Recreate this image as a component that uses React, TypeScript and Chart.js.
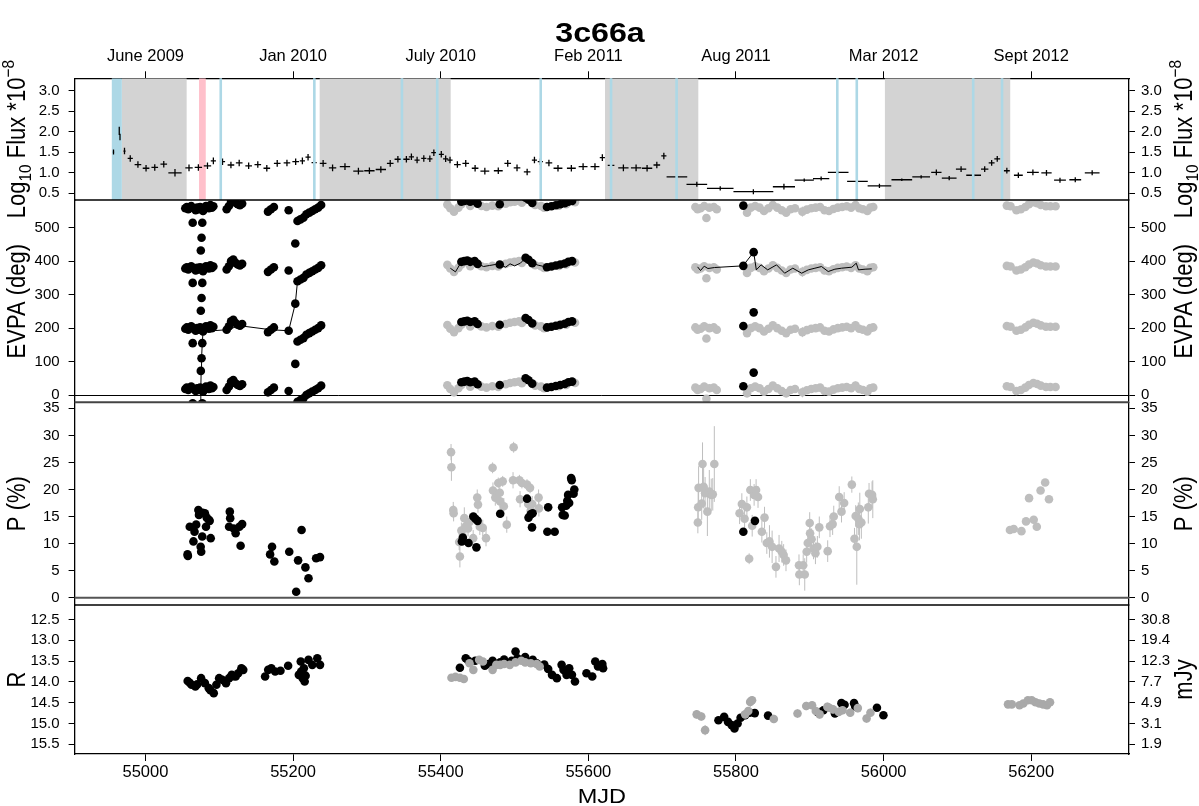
import React, { useEffect, useRef } from 'react';
import { Chart, registerables } from 'chart.js';

Chart.register(...registerables);

// ---------------- axes ----------------
const X_MIN = 54904;
const X_MAX = 56332.5;
const mjdTicks = [55000, 55200, 55400, 55600, 55800, 56000, 56200];
const mjdLabels = ['55000', '55200', '55400', '55600', '55800', '56000', '56200'];
const dateLabels = ['June 2009', 'Jan 2010', 'July 2010', 'Feb 2011', 'Aug 2011', 'Mar 2012', 'Sept 2012'];

const fluxRange = [0.337, 3.302];
const fluxTicks = [0.5, 1.0, 1.5, 2.0, 2.5, 3.0];
const fluxTickLabels = ['0.5', '1.0', '1.5', '2.0', '2.5', '3.0'];
const evpaRange = [-21.8, 582.8];
const evpaTicks = [0, 100, 200, 300, 400, 500];
const evpaTickLabels = ['0', '100', '200', '300', '400', '500'];
const pRange = [-1.35, 36.11];
const pTicks = [0, 5, 10, 15, 20, 25, 30, 35];
const pTickLabels = ['0', '5', '10', '15', '20', '25', '30', '35'];
const rRange = [12.151, 15.733];
const rTicks = [12.5, 13.0, 13.5, 14.0, 14.5, 15.0, 15.5];
const rTickLabels = ['12.5', '13.0', '13.5', '14.0', '14.5', '15.0', '15.5'];
const mJyLabels = ['30.8', '19.4', '12.3', '7.7', '4.9', '3.1', '1.9'];
const panelWeights = [121.7, 202.3, 202.7, 149];
const evpaWraps = [0, 180, 360, 540];

// ---------------- flux panel annotations ----------------
const grayBands = [[54968, 55055.8], [55236, 55413.5], [55622.6, 55749], [56001.8, 56171.6]];
const blueBand = [54954.4, 54968];
const pinkBand = [55072.6, 55081.7];
const blueLines = [55102, 55228.8, 55347.5, 55395.3, 55535.5, 55630.8, 55719.6, 55937.3, 55963.7, 56121.4, 56160.5];

// ---------------- flux (binned gamma-ray) ----------------
const fluxMjd = [54956.7, 54964.5, 54965.5, 54971.6, 54979.4, 54989.8, 55000.8, 55012.6, 55024.8, 55040,
  55059, 55071.7, 55084, 55092, 55104.4, 55115.8, 55127, 55139.8, 55152.2, 55164.4,
  55178.5, 55191.7, 55203.5, 55212.6, 55220.3, 55228.5, 55240.7, 55253.5, 55270.3, 55288.5,
  55303.4, 55318.9, 55331.6, 55342, 55353.5, 55360.3, 55368, 55377.1, 55385.3, 55390.7,
  55400.8, 55406.7, 55412.6, 55422.6, 55433.9, 55446.6, 55459.8, 55478, 55490.8, 55503.4,
  55517.1, 55527, 55535, 55546.6, 55558.9, 55577, 55592.9, 55609, 55619, 55630.8,
  55647.5, 55664.7, 55679.6, 55692.8, 55702.3, 55720, 55747, 55778.7, 55823.6, 55865,
  55892.5, 55915.4, 55938.5, 55964.6, 55994.4, 56024.7, 56050.9, 56071.5, 56088.9, 56105,
  56122, 56137, 56146.4, 56154, 56167, 56182.6, 56202.3, 56220.7, 56239, 56259.7, 56282.6];
const fluxVal = [1.505, 2.02, 1.87, 1.53, 1.35, 1.20, 1.11, 1.13, 1.21, 1.00,
  1.12, 1.13, 1.17, 1.29, 1.27, 1.19, 1.24, 1.17, 1.20, 1.11,
  1.23, 1.24, 1.27, 1.29, 1.38, 1.25, 1.23, 1.12, 1.15, 1.04,
  1.05, 1.08, 1.23, 1.33, 1.33, 1.39, 1.31, 1.35, 1.34, 1.49,
  1.45, 1.34, 1.31, 1.20, 1.23, 1.11, 1.04, 1.05, 1.23, 1.12,
  1.02, 1.31, 1.27, 1.24, 1.11, 1.11, 1.15, 1.15, 1.37, 1.18,
  1.12, 1.12, 1.11, 1.19, 1.41, 0.90, 0.72, 0.62, 0.54, 0.66,
  0.82, 0.86, 1.01, 0.79, 0.68, 0.83, 0.90, 1.01, 0.87, 1.09,
  0.94, 1.09, 1.24, 1.34, 1.05, 0.94, 1.01, 1.00, 0.82, 0.83, 1.00];
const fluxXerr = [1, 0.5, 0.5, 1.5, 3.5, 4.5, 4.5, 4.5, 4.5, 9,
  5, 5, 5, 3.5, 3.5, 4.5, 4.5, 4.5, 4.5, 4.5,
  4.5, 4.5, 4.5, 3.5, 3.5, 3.5, 4.5, 5, 7, 7,
  7, 7, 4.5, 4.5, 4.5, 3.5, 3.5, 3.5, 3.5, 3.5,
  3.5, 3.5, 3.5, 4.5, 4.5, 4.5, 6, 6, 4.5, 4.5,
  4.5, 3.5, 3.5, 4.5, 6, 6, 6, 6, 3.5, 4.5,
  7, 7, 7, 4.5, 3.5, 14, 14, 18, 27, 15,
  13, 11, 14, 14, 16, 14, 12, 7, 10, 7,
  10, 5, 4, 4, 4, 6, 8, 7, 8, 8, 10];
const fluxYerr = [0.06, 0.1, 0.08, 0.08, 0.08, 0.08, 0.08, 0.08, 0.08, 0.09,
  0.08, 0.08, 0.08, 0.08, 0.08, 0.08, 0.08, 0.08, 0.08, 0.08,
  0.08, 0.08, 0.08, 0.08, 0.08, 0.08, 0.08, 0.08, 0.08, 0.08,
  0.08, 0.08, 0.08, 0.08, 0.08, 0.08, 0.08, 0.08, 0.08, 0.08,
  0.08, 0.08, 0.08, 0.08, 0.08, 0.08, 0.08, 0.08, 0.08, 0.08,
  0.08, 0.08, 0.08, 0.08, 0.08, 0.08, 0.08, 0.08, 0.08, 0.08,
  0.08, 0.08, 0.08, 0.08, 0.08, 0.02, 0.06, 0.05, 0.06, 0.07,
  0.04, 0.05, 0.02, 0.02, 0.05, 0.03, 0.04, 0.07, 0.05, 0.07,
  0.03, 0.07, 0.07, 0.07, 0.07, 0.07, 0.07, 0.07, 0.06, 0.06, 0.06];

// ---------------- EVPA ----------------
const evpaBlackMjd = [55054, 55056, 55058, 55060, 55062, 55064, 55066, 55068, 55070, 55072, 55074, 55075, 55076, 55077, 55078, 55080, 55082, 55084, 55086, 55088, 55090, 55092,
  55110, 55113, 55116, 55119, 55122, 55125, 55128, 55131,
  55166, 55170, 55174, 55194, 55203, 55206, 55210, 55214, 55218, 55222, 55226, 55230, 55234, 55238,
  55428, 55432, 55436, 55440, 55446, 55450, 55480, 55515, 55519, 55524, 55544, 55550, 55556, 55562, 55568, 55573, 55578,
  55810, 55824];
const evpaBlackDeg = [18, 22, 15, 20, 25, -25, 18, 12, 20, 15, 22, 72, 110, -25, 10, 20, 25, 22, 18, 28, 20, 24,
  15, 25, 40, 45, 35, 30, 27, 32,
  8, 15, 22, 12, 93, -20, -15, -10, 0, 5, 10, 15, 20, 28,
  38, 40, 42, 38, 40, 32, 30, 50, 44, 34, 22, 24, 27, 30, 33, 38, 40,
  26, 67];
const evpaGrayMjd = [55409, 55413, 55418, 55424, 55428, 55440, 55455, 55462, 55470, 55478, 55488, 55494, 55500, 55506, 55510, 55528, 55536, 55540, 55560, 55570, 55582,
  55745, 55748, 55752, 55757, 55760, 55764, 55770, 55774, 55815, 55820, 55826, 55832, 55838, 55844, 55850, 55856, 55862, 55868, 55874, 55880,
  55890, 55896, 55902, 55908, 55914, 55920, 55926, 55932, 55938, 55944, 55950, 55956, 55962, 55967, 55972, 55978, 55982, 55986,
  56167, 56172, 56180, 56186, 56192, 56197, 56203, 56208, 56213, 56220, 56226, 56233];
const evpaGrayDeg = [29, 18, 8, 20, 30, 25, 25, 22, 26, 24, 32, 36, 38, 40, 35, 28, 25, 20, 26, 30, 36,
  22, 15, 18, 25, -11, 20, 22, 15, 5, 20, 25, 20, 10, 18, 28, 20, 12, 5, 15, 18,
  8, 14, 18, 20, 22, 12, 10, 16, 20, 22, 24, 20, 28, 18, 15, 10, 20, 22,
  26, 24, 12, 15, 22, 30, 36, 33, 28, 24, 24, 24];
const evpaGrayErr = [3, 3, 3, 3, 3, 3, 3, 3, 3, 3, 3, 3, 3, 3, 3, 3, 3, 3, 3, 3, 3,
  6, 8, 6, 8, 5, 6, 8, 6, 5, 6, 5, 6, 8, 5, 6, 5, 6, 8, 6, 5,
  15, 8, 6, 5, 6, 8, 6, 5, 6, 8, 6, 5, 12, 6, 5, 6, 8, 6,
  2, 2, 2, 2, 2, 2, 2, 2, 2, 2, 2, 2];
const evpaTrack1Mjd = [55074, 55075, 55075.5, 55076, 55077, 55078, 55110, 55128, 55170, 55194, 55203, 55206, 55214, 55222, 55230, 55238];
const evpaTrack1Deg = [-25, 22, 72, 110, 155, 190, 195, 207, 195, 192, 273, 340, 350, 365, 375, 388];
const evpaTrack2Mjd = [55413, 55420, 55428, 55432, 55436, 55440, 55446, 55450, 55458, 55466, 55474, 55480, 55488, 55494, 55500, 55508, 55515, 55519, 55524, 55532, 55544, 55550, 55556, 55562, 55568, 55573, 55578];
const evpaTrack2Deg = [379, 368, 398, 400, 402, 398, 400, 392, 384, 387, 390, 390, 382, 392, 386, 394, 410, 404, 394, 388, 382, 384, 387, 390, 393, 398, 400];
const evpaTrack3Mjd = [55748, 55752, 55757, 55762, 55771, 55809.5, 55824, 55827.6, 55834, 55843, 55855, 55866, 55877, 55889, 55898, 55907, 55916, 55925, 55934, 55943, 55957, 55963, 55966, 55975, 55984];
const evpaTrack3Deg = [383, 372, 385, 378, 381, 386, 427, 374, 389, 374, 389, 364, 379, 364, 374, 379, 384, 369, 376, 379, 382, 394, 374, 376, 377];

// ---------------- polarization degree ----------------
const pBlackMjd = [55057, 55057.5, 55060, 55065, 55066.5, 55068.7, 55071.7, 55072.5, 55074.8, 55075.5, 55076.9, 55077.5, 55080.5, 55082, 55083, 55085.8, 55087, 55088.4,
  55114.3, 55114.8, 55113.3, 55119.5, 55122.2, 55127.3, 55131, 55128.9,
  55171.5, 55168.9, 55174.6, 55194.8, 55206.8, 55204.2, 55211.5, 55216.7, 55220.9, 55231.2, 55236.5,
  55428.7, 55430, 55437.7, 55444.2, 55447, 55450, 55448.4, 55480.6, 55517, 55519, 55522, 55523.7, 55524.5,
  55545.6, 55544.5, 55554.4, 55565.3, 55564.5, 55568, 55570, 55572.6, 55571.5, 55574, 55576.7, 55577.5, 55581, 55580,
  55810, 55825.7];
const pBlackVal = [8.0, 7.7, 13.1, 10.4, 12.2, 13.5, 16.2, 15.3, 9.4, 8.5, 11.3, 15.7, 15.6, 13.1, 14.8, 14.4, 14.2, 11.0,
  15.9, 14.7, 13.1, 12.8, 11.9, 13.1, 13.6, 9.6,
  9.4, 8.0, 6.7, 8.5, 6.9, 1.1, 12.5, 5.6, 3.6, 7.3, 7.5,
  10.4, 11.1, 10.1, 15.0, 14.6, 14.2, 9.3, 15.5, 18.3, 14.8, 15.4, 13.0, 15.6,
  16.7, 12.2, 12.2, 15.3, 16.7, 15.2, 17.0, 19.0, 17.9, 17.5, 22.1, 21.7, 20.0, 19.2,
  12.2, 14.2];
const pGrayMjd = [55414, 55414.5, 55417, 55417.5, 55425, 55426, 55428, 55432, 55434, 55437, 55439, 55444, 55449.5, 55450.5, 55453, 55457, 55461.4,
  55470.3, 55470.8, 55474, 55478, 55480, 55480.5, 55484, 55485.5, 55489.5, 55498.8, 55498, 55506.6, 55507.5, 55510, 55516.9, 55521, 55518.5, 55522, 55524, 55532.6, 55533,
  55748.4, 55748.8, 55749.4, 55753.6, 55754.7, 55756.2, 55758.2, 55761.3, 55763.9, 55766.5, 55768.6, 55770.7,
  55804.9, 55808, 55811.7, 55814.8, 55817.9, 55819.5, 55822, 55824.6, 55827.3, 55829.9, 55835.1, 55838.7, 55841.8, 55845.4, 55849, 55854.2, 55858.4, 55862.1, 55864.6, 55867.8,
  55885.4, 55885.9, 55891.1, 55893.2, 55895.8, 55897.3, 55899.9, 55900.4, 55902.5, 55905.1, 55907.7, 55910.3, 55912.9,
  55924.3, 55927.4, 55931, 55932.5, 55939.9, 55943, 55946.6, 55957, 55960.6, 55962.2, 55963.7, 55965.8, 55967.3, 55967.8, 55969.9, 55979.3, 55980.3, 55984.4, 55985.4,
  56171.2, 56176.3, 56186.8, 56193, 56197.1, 56203.4, 56207.6, 56212.7, 56218.9, 56224.1];
const pGrayVal = [26.9, 24.1, 16.2, 15.6, 10.3, 7.6, 12.4, 14.7, 13.2, 12.8, 14.0, 11.0, 18.5, 17.2, 13.1, 12.9, 11.0,
  24.0, 19.8, 18.5, 21.2, 19.4, 17.8, 21.5, 16.9, 13.5, 27.8, 21.7, 21.7, 18.2, 21.2, 20.9, 20.3, 17.3, 16.1, 17.3, 18.5, 16.5,
  13.9, 16.7, 20.3, 17.4, 24.7, 20.5, 19.3, 15.9, 19.6, 19.0, 19.1, 24.7,
  15.6, 17.3, 14.6, 16.7, 7.2, 19.9, 13.3, 19.0, 19.9, 18.6, 12.2, 14.8, 10.1, 10.4, 9.4, 5.7, 9.1, 8.5, 7.9, 6.9,
  6.0, 4.3, 6.0, 4.3, 8.5, 10.1, 13.8, 11.9, 10.8, 9.1, 8.2, 9.4, 13.0,
  8.6, 13.2, 13.6, 15.0, 18.6, 15.9, 17.5, 20.9, 10.9, 15.1, 9.4, 14.6, 13.6, 16.4, 13.9, 16.7, 19.2, 19.0, 18.2,
  12.5, 12.7, 12.3, 14.1, 18.4, 14.4, 13.1, 19.8, 21.3, 18.2];
const pGrayErr = [1.5, 2.5, 1.5, 1.5, 1.5, 2, 1.5, 2, 1.5, 1.5, 1.5, 1.5, 1.5, 1.5, 1.5, 1.5, 1.5,
  1, 1.5, 1.5, 1, 1.5, 1.5, 1, 1.5, 1.5, 1, 1.5, 1, 1.5, 1, 1, 1, 1.5, 1.5, 1.5, 1.5, 1.5,
  2, 3, 4, 3, 4, 4, 3, 4.5, 4, 3, 3, 7,
  2, 2, 2, 2, 1, 2, 2, 2, 2, 2, 2, 2, 2, 3, 3, 2, 2.5, 2, 2, 2,
  2, 2, 2, 3, 2, 2, 2, 2, 2, 2, 2, 2, 2,
  2, 2, 2, 2, 2, 2, 2, 1.5, 2, 2, 7, 3, 3, 3, 3, 3, 2, 2.5, 3.5,
  0.5, 0.5, 0.5, 0.5, 0.5, 0.5, 0.5, 0.5, 0.5, 0.5];

// ---------------- R magnitude ----------------
const rBlackMjd = [55057.2, 55060, 55062.4, 55067.6, 55070, 55075.4, 55080.5, 55085.8, 55088, 55092.5, 55096.1, 55099.8, 55104, 55109.1, 55113.3, 55116.9, 55119, 55122.2, 55125.7, 55130, 55132.5,
  55162.1, 55166.3, 55170.5, 55175.7, 55182.9, 55193.3, 55207.8, 55210.4, 55211, 55213, 55214.6, 55215.7, 55217, 55220.9, 55226, 55232.8, 55236.5,
  55426, 55433.9, 55437.5, 55446.9, 55459.8, 55465, 55470.3, 55480.6, 55485.9, 55496.2, 55501.4, 55504, 55514.4, 55524.7, 55530, 55540.3, 55545.6, 55550.8, 55557.4,
  55563.8, 55566.4, 55570.5, 55574.1, 55577.8, 55581.9, 55597.5, 55605.3, 55609.4, 55613.1, 55619, 55620,
  55776.3, 55784, 55789.2, 55794.3, 55798, 55802.2, 55806.3, 55812.5, 55818.7, 55825.5, 55843.5, 55910.8, 55918.5, 55934.1, 55942.9, 55947.1, 55960, 55961.6, 55991, 55999.8];
const rBlackMag = [13.98, 14.02, 14.07, 14.11, 14.06, 13.91, 14.03, 14.15, 14.20, 14.27, 14.07, 13.91, 13.95, 14.03, 13.91, 13.83, 13.86, 13.87, 13.79, 13.67, 13.71,
  13.87, 13.71, 13.67, 13.75, 13.73, 13.61, 13.83, 13.51, 13.75, 13.91, 13.67, 13.99, 13.85, 13.47, 13.59, 13.43, 13.59,
  13.66, 13.43, 13.49, 13.49, 13.61, 13.57, 13.49, 13.53, 13.46, 13.49, 13.27, 13.43, 13.40, 13.47, 13.55, 13.58, 13.69, 13.83, 13.91,
  13.59, 13.71, 13.83, 13.67, 13.83, 13.99, 13.79, 13.87, 13.51, 13.63, 13.57, 13.67,
  14.92, 14.84, 14.96, 15.04, 15.12, 15.00, 14.86, 14.80, 14.74, 14.75, 14.81, 14.73, 14.68, 14.76, 14.51, 14.55, 14.51, 14.59, 14.62, 14.80];
const rGrayMjd = [55414.6, 55420, 55426, 55431.3, 55439, 55444.2, 55452.1, 55457.2, 55470.3, 55475.4, 55480.6, 55485.9, 55493.6, 55501.4, 55509.2, 55514.4, 55522.1, 55530, 55534.1,
  55746.8, 55753, 55758.2, 55812.5, 55816.7, 55819.3, 55821.8, 55851.3, 55883.4, 55895.2, 55903.1, 55908.2, 55913.4, 55923.8, 55926.4, 55931.5, 55939.2, 55944.4, 55954.8, 55965.1, 55977, 55982.2,
  56168.6, 56173.7, 56184.2, 56189.3, 56195.5, 56200.7, 56205.8, 56211, 56216.2, 56221.4, 56225.5];
const rGrayMag = [13.90, 13.88, 13.90, 13.93, 13.55, 13.71, 13.47, 13.51, 13.71, 13.59, 13.59, 13.57, 13.59, 13.53, 13.49, 13.53, 13.55, 13.57, 13.63,
  14.78, 14.83, 15.16, 14.78, 14.70, 14.48, 14.44, 14.89, 14.76, 14.58, 14.56, 14.70, 14.78, 14.60, 14.62, 14.66, 14.72, 14.68, 14.74, 14.63, 14.88, 14.74,
  14.54, 14.54, 14.56, 14.52, 14.44, 14.44, 14.49, 14.52, 14.54, 14.56, 14.49];
const rGrayErr = [0.08, 0.08, 0.08, 0.08, 0.08, 0.08, 0.08, 0.08, 0.08, 0.08, 0.08, 0.08, 0.08, 0.08, 0.08, 0.08, 0.08, 0.08, 0.08,
  0.1, 0.1, 0.12, 0.1, 0.1, 0.12, 0.1, 0.1, 0.1, 0.1, 0.1, 0.1, 0.1, 0.1, 0.1, 0.1, 0.1, 0.1, 0.1, 0.1, 0.1, 0.1,
  0.08, 0.08, 0.06, 0.06, 0.06, 0.06, 0.06, 0.06, 0.06, 0.06, 0.06];

// ---------------- styling ----------------
const FONT = '"Liberation Sans", Arial, Helvetica, sans-serif';
const BLACK = '#000000';
const GRAY = '#BEBEBE';
const RGRAY = '#A9A9A9';
const DOT_R = 4.3;

const toPts = (xs: number[], ys: number[], ye?: number[], xe?: number[]) =>
  xs.map((x, i) => ({ x, y: ys[i], ye: ye ? ye[i] : 0, xe: xe ? xe[i] : 0 }));

const wrapPts = (xs: number[], ys: number[], ye?: number[]) => {
  const out: any[] = [];
  xs.forEach((x, i) => {
    evpaWraps.forEach((w) => {
      const y = ys[i] + w;
      if (y > evpaRange[0] - 8 && y < evpaRange[1] + 8) out.push({ x, y, ye: ye ? ye[i] : 0, xe: 0 });
    });
  });
  return out;
};

const dotSet = (label: string, data: any[], yAxisID: string, color: string, order: number, errColor?: string) => ({
  label, data, yAxisID, xAxisID: 'x', order,
  showLine: false, pointRadius: DOT_R, pointHoverRadius: DOT_R, pointBorderWidth: 0,
  pointBackgroundColor: color, pointBorderColor: color, backgroundColor: color, borderColor: color,
  errColor, errWidth: 1,
});

const lineSet = (label: string, xs: number[], ys: number[], order: number) => ({
  label, data: toPts(xs, ys), yAxisID: 'yEvpa', xAxisID: 'x', order,
  showLine: true, borderColor: BLACK, borderWidth: 1, pointRadius: 0, fill: false, tension: 0,
});

// ---------------- plugins ----------------
const errorBarPlugin = {
  id: 'errorBars',
  beforeDatasetDraw(chart: any, args: any) {
    const meta = args.meta;
    const ds = chart.data.datasets[args.index];
    const xs = chart.scales[meta.xAxisID];
    const ys = chart.scales[meta.yAxisID];
    const ctx = chart.ctx;
    const ca = chart.chartArea;
    ctx.save();
    ctx.beginPath();
    ctx.rect(ca.left, ys.top, ca.right - ca.left, ys.bottom - ys.top);
    ctx.clip();
    if (ds.errColor) {
      ctx.strokeStyle = ds.errColor;
      ctx.lineWidth = ds.errWidth || 1;
      ctx.beginPath();
      for (const p of ds.data) {
        const px = xs.getPixelForValue(p.x);
        const py = ys.getPixelForValue(p.y);
        if (p.ye) {
          ctx.moveTo(px, ys.getPixelForValue(p.y - p.ye));
          ctx.lineTo(px, ys.getPixelForValue(p.y + p.ye));
        }
        if (p.xe) {
          ctx.moveTo(xs.getPixelForValue(p.x - p.xe), py);
          ctx.lineTo(xs.getPixelForValue(p.x + p.xe), py);
        }
      }
      ctx.stroke();
    }
  },
  afterDatasetDraw(chart: any) {
    chart.ctx.restore();
  },
};

function hLine(ctx: any, x0: number, x1: number, y: number, color: string, w: number) {
  ctx.save();
  ctx.strokeStyle = color;
  ctx.lineWidth = w;
  ctx.beginPath();
  ctx.moveTo(x0, y);
  ctx.lineTo(x1, y);
  ctx.stroke();
  ctx.restore();
}

function drawRotRich(ctx: any, parts: any[], cx: number, cy: number, size: number, stretch: number) {
  ctx.save();
  ctx.translate(cx, cy);
  ctx.rotate(-Math.PI / 2);
  ctx.scale(1, stretch);
  ctx.fillStyle = BLACK;
  ctx.textBaseline = 'alphabetic';
  ctx.textAlign = 'left';
  const ws = parts.map((p) => {
    ctx.font = `${size * (p.s || 1)}px ${FONT}`;
    return ctx.measureText(p.t).width;
  });
  const total = ws.reduce((a: number, b: number) => a + b, 0);
  let x = -total / 2;
  parts.forEach((p, i) => {
    ctx.font = `${size * (p.s || 1)}px ${FONT}`;
    ctx.fillText(p.t, x, -(p.dy || 0) * size);
    x += ws[i];
  });
  ctx.restore();
}

function drawStretched(ctx: any, text: string, x: number, y: number, font: string, sx: number) {
  ctx.save();
  ctx.translate(x, y);
  ctx.scale(sx, 1);
  ctx.font = font;
  ctx.fillStyle = BLACK;
  ctx.textAlign = 'center';
  ctx.textBaseline = 'alphabetic';
  ctx.fillText(text, 0, 0);
  ctx.restore();
}

const fluxTitle = [
  { t: 'Log' },
  { t: '10', s: 0.7, dy: -0.25 },
  { t: ' Flux *10' },
  { t: '\u22128', s: 0.7, dy: 0.45 },
];

const overlayPlugin = {
  id: 'overlay',
  beforeDatasetsDraw(chart: any) {
    const ctx = chart.ctx;
    const x = chart.scales.x;
    const yf = chart.scales.yFlux;
    const ca = chart.chartArea;
    ctx.save();
    ctx.beginPath();
    ctx.rect(ca.left, yf.top, ca.right - ca.left, yf.bottom - yf.top);
    ctx.clip();
    ctx.fillStyle = '#D3D3D3';
    grayBands.forEach(([a, b]) => {
      const x0 = x.getPixelForValue(a);
      const x1 = x.getPixelForValue(b);
      ctx.fillRect(x0, yf.top, x1 - x0, yf.bottom - yf.top);
    });
    ctx.fillStyle = '#ADD8E6';
    {
      const x0 = x.getPixelForValue(blueBand[0]);
      const x1 = x.getPixelForValue(blueBand[1]);
      ctx.fillRect(x0, yf.top, x1 - x0, yf.bottom - yf.top);
    }
    ctx.fillStyle = '#FFC0CB';
    {
      const x0 = x.getPixelForValue(pinkBand[0]);
      const x1 = x.getPixelForValue(pinkBand[1]);
      ctx.fillRect(x0, yf.top, x1 - x0, yf.bottom - yf.top);
    }
    ctx.restore();
    // zero lines
    hLine(ctx, ca.left, ca.right, Math.round(chart.scales.yEvpa.getPixelForValue(0)) + 0.5, BLACK, 1);
    hLine(ctx, ca.left, ca.right, chart.scales.yP.getPixelForValue(0), '#555555', 2);
  },
  afterDatasetsDraw(chart: any) {
    const ctx = chart.ctx;
    const x = chart.scales.x;
    const yf = chart.scales.yFlux;
    const ca = chart.chartArea;
    ctx.save();
    ctx.strokeStyle = '#ADD8E6';
    ctx.lineWidth = 2.6;
    ctx.beginPath();
    blueLines.forEach((m) => {
      const px = x.getPixelForValue(m);
      ctx.moveTo(px, yf.top);
      ctx.lineTo(px, yf.bottom);
    });
    ctx.stroke();
    ctx.restore();
    // panel separators
    hLine(ctx, ca.left, ca.right, yf.bottom, BLACK, 1.3);
    hLine(ctx, ca.left, ca.right, chart.scales.yEvpa.bottom, '#444444', 2);
    hLine(ctx, ca.left, ca.right, chart.scales.yP.bottom, BLACK, 1.3);
  },
  afterDraw(chart: any) {
    const ctx = chart.ctx;
    const s = chart.scales;
    const mid = (sc: any) => (sc.top + sc.bottom) / 2;
    const L = 25;
    const R = 1192;
    const size = 22;
    const st = 1.13;
    drawRotRich(ctx, fluxTitle, L, mid(s.yFlux), size, st);
    drawRotRich(ctx, fluxTitle, R, mid(s.yFluxR), size, st);
    drawRotRich(ctx, [{ t: 'EVPA (deg)' }], L, mid(s.yEvpa), size, st);
    drawRotRich(ctx, [{ t: 'EVPA (deg)' }], R, mid(s.yEvpaR), size, st);
    drawRotRich(ctx, [{ t: 'P (%)' }], L, mid(s.yP), size, st);
    drawRotRich(ctx, [{ t: 'P (%)' }], R, mid(s.yPR), size, st);
    drawRotRich(ctx, [{ t: 'R' }], L, mid(s.yR), size, st);
    drawRotRich(ctx, [{ t: 'mJy' }], R, mid(s.yRR), size, st);
    drawStretched(ctx, 'MJD', (chart.chartArea.left + chart.chartArea.right) / 2, 803, `21px ${FONT}`, 1.12);
    drawStretched(ctx, '3c66a', 600, 42, `bold 28px ${FONT}`, 1.15);
  },
};

// ---------------- scales ----------------
const yAxis = (pos: string, range: number[], ticks: number[], labels: string[], weight: number, stackWeight: number, reverse = false) => ({
  type: 'linear',
  position: pos,
  stack: pos === 'left' ? 'leftStack' : 'rightStack',
  stackWeight,
  weight,
  reverse,
  min: range[0],
  max: range[1],
  afterBuildTicks: (sc: any) => {
    sc.ticks = ticks.map((v) => ({ value: v }));
  },
  afterFit: (sc: any) => {
    sc.width = pos === 'left' ? 74.6 : 70;
  },
  ticks: {
    autoSkip: false,
    color: BLACK,
    font: { family: FONT, size: 15 },
    padding: pos === 'left' ? 9 : 6,
    callback: (_v: any, i: number) => labels[i],
  },
  grid: { display: true, drawOnChartArea: false, drawTicks: true, tickLength: 6, color: BLACK, lineWidth: 1 },
  border: { display: true, color: BLACK, width: 1.3 },
});

const xAxis = (pos: string, labels: string[], height: number, padding: number) => ({
  type: 'linear',
  position: pos,
  min: X_MIN,
  max: X_MAX,
  afterBuildTicks: (sc: any) => {
    sc.ticks = mjdTicks.map((v) => ({ value: v }));
  },
  afterFit: (sc: any) => {
    sc.height = height;
  },
  ticks: {
    autoSkip: false,
    maxRotation: 0,
    minRotation: 0,
    color: BLACK,
    font: { family: FONT, size: 16.5 },
    padding,
    callback: (_v: any, i: number) => labels[i],
  },
  grid: { display: true, drawOnChartArea: false, drawTicks: true, tickLength: 7, color: BLACK, lineWidth: 1 },
  border: { display: true, color: BLACK, width: 1.3 },
});

export default function App() {
  const ref = useRef<HTMLCanvasElement>(null);

  useEffect(() => {
    const canvas = ref.current;
    if (!canvas) return;

    const datasets: any[] = [
      // flux crosses (error bars only)
      {
        label: 'flux', data: toPts(fluxMjd, fluxVal, fluxYerr, fluxXerr), yAxisID: 'yFlux', xAxisID: 'x', order: 1,
        showLine: false, pointRadius: 0, pointHoverRadius: 0, errColor: BLACK, errWidth: 1.3,
        backgroundColor: BLACK, borderColor: BLACK,
      },
      // EVPA
      dotSet('evpaBlack', wrapPts(evpaBlackMjd, evpaBlackDeg), 'yEvpa', BLACK, 1),
      lineSet('track1', evpaTrack1Mjd, evpaTrack1Deg, 2),
      lineSet('track2', evpaTrack2Mjd, evpaTrack2Deg, 2),
      lineSet('track3', evpaTrack3Mjd, evpaTrack3Deg, 2),
      dotSet('evpaGray', wrapPts(evpaGrayMjd, evpaGrayDeg, evpaGrayErr), 'yEvpa', GRAY, 3, GRAY),
      // P
      dotSet('pBlack', toPts(pBlackMjd, pBlackVal), 'yP', BLACK, 1),
      dotSet('pGray', toPts(pGrayMjd, pGrayVal, pGrayErr), 'yP', GRAY, 3, GRAY),
      // R
      dotSet('rGray', toPts(rGrayMjd, rGrayMag, rGrayErr), 'yR', RGRAY, 1, RGRAY),
      dotSet('rBlack', toPts(rBlackMjd, rBlackMag), 'yR', BLACK, 2),
    ];

    const chart = new Chart(canvas, {
      type: 'scatter',
      data: { datasets },
      options: {
        animation: false,
        responsive: false,
        maintainAspectRatio: false,
        devicePixelRatio: 1,
        events: [],
        layout: { padding: 0 },
        plugins: { legend: { display: false }, tooltip: { enabled: false }, title: { display: false } },
        scales: {
          x: xAxis('bottom', mjdLabels, 52, 2),
          xTop: xAxis('top', dateLabels, 78.3, 4.5),
          yFlux: yAxis('left', fluxRange, fluxTicks, fluxTickLabels, 4, panelWeights[0]),
          yEvpa: yAxis('left', evpaRange, evpaTicks, evpaTickLabels, 3, panelWeights[1]),
          yP: yAxis('left', pRange, pTicks, pTickLabels, 2, panelWeights[2]),
          yR: yAxis('left', rRange, rTicks, rTickLabels, 1, panelWeights[3], true),
          yFluxR: yAxis('right', fluxRange, fluxTicks, fluxTickLabels, 1, panelWeights[0]),
          yEvpaR: yAxis('right', evpaRange, evpaTicks, evpaTickLabels, 2, panelWeights[1]),
          yPR: yAxis('right', pRange, pTicks, pTickLabels, 3, panelWeights[2]),
          yRR: yAxis('right', rRange, rTicks, mJyLabels, 4, panelWeights[3], true),
        },
      } as any,
      plugins: [errorBarPlugin, overlayPlugin],
    } as any);

    return () => chart.destroy();
  }, []);

  return (
    <div style={{ position: 'absolute', left: 0, top: 0, width: 1199, height: 806, background: '#ffffff' }}>
      <canvas ref={ref} width={1199} height={806} style={{ display: 'block', width: 1199, height: 806 }} />
    </div>
  );
}
